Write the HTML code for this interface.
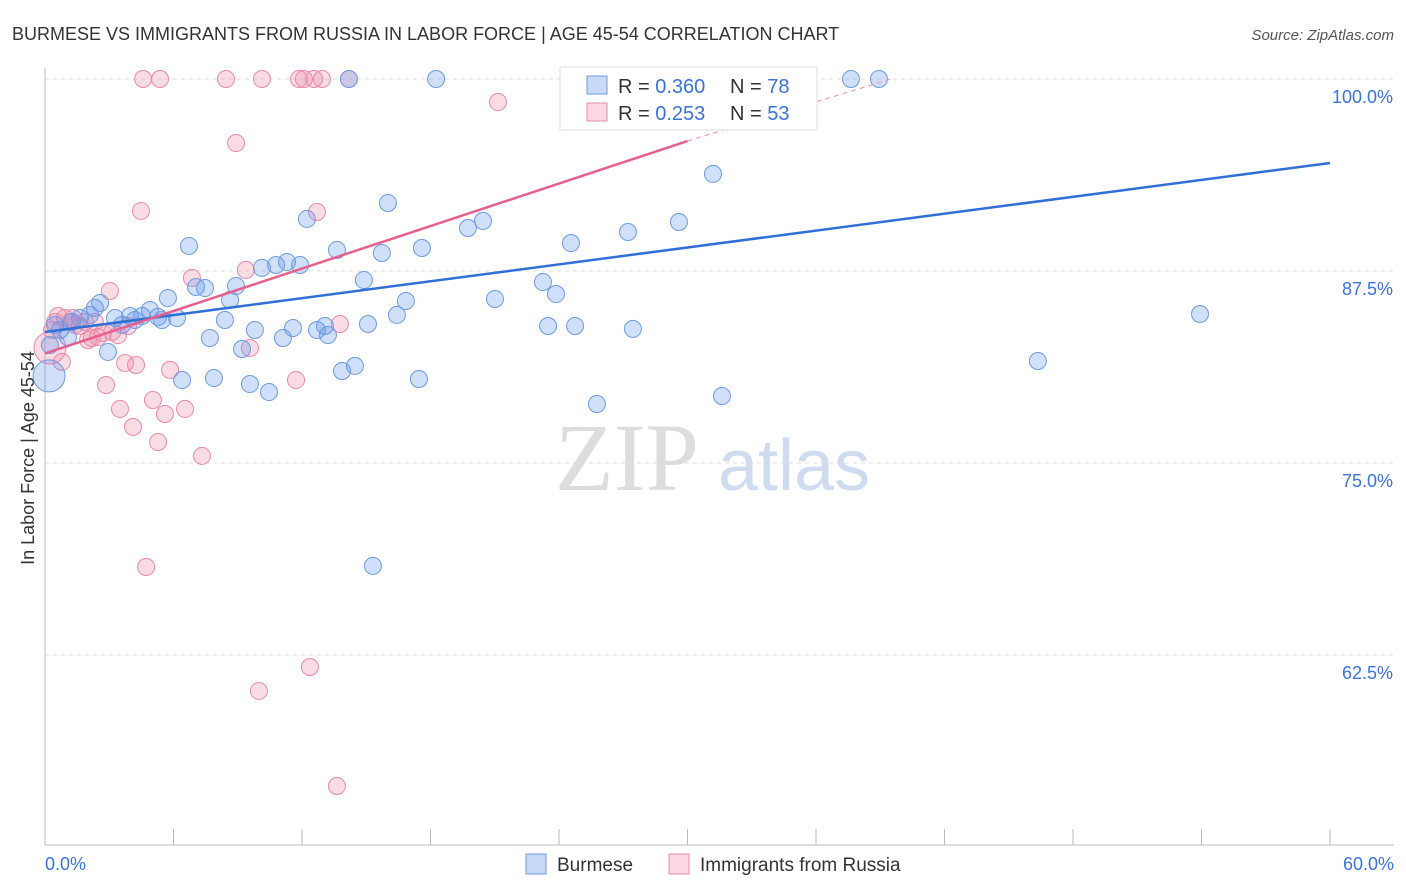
<!DOCTYPE html>
<html><head><meta charset="utf-8"><style>
body{margin:0;background:#fff;font-family:"Liberation Sans",sans-serif}
#wrap{position:relative;width:1406px;height:892px;overflow:hidden}
</style></head><body>
<div id="wrap">
<svg id="svg" width="1406" height="892" xmlns="http://www.w3.org/2000/svg">
<text x="12" y="40" font-size="18" fill="#333">BURMESE VS IMMIGRANTS FROM RUSSIA IN LABOR FORCE | AGE 45-54 CORRELATION CHART</text>
<text x="1394" y="40" font-size="15" fill="#555" font-style="italic" text-anchor="end">Source: ZipAtlas.com</text>
<text x="34" y="458" font-size="18" fill="#333" text-anchor="middle" transform="rotate(-90 34 458)">In Labor Force | Age 45-54</text>
<text x="555" y="490" font-size="96" fill="#ddd" font-family="Liberation Serif,serif">ZIP</text>
<text x="718" y="490" font-size="72" fill="#cfdcf0">atlas</text>
<g id="grid"></g><g id="axes"></g><g id="pts"></g><g id="lines"></g>
<g>
<rect x="560" y="67" width="257" height="63" fill="#fff" stroke="#ddd"/>
<rect x="587" y="76" width="20" height="18" fill="rgba(100,149,237,0.35)" stroke="#6d9be0"/>
<text x="618" y="93" font-size="20" fill="#333">R = <tspan fill="#3b73d9">0.360</tspan></text>
<text x="730" y="93" font-size="20" fill="#333">N = <tspan fill="#3b73d9">78</tspan></text>
<rect x="587" y="103" width="20" height="18" fill="rgba(240,140,170,0.35)" stroke="#e88aa8"/>
<text x="618" y="120" font-size="20" fill="#333">R = <tspan fill="#3b73d9"> 0.253</tspan></text>
<text x="730" y="120" font-size="20" fill="#333">N = <tspan fill="#3b73d9">53</tspan></text>
</g>
<g>
<rect x="526" y="854" width="20" height="20" fill="rgba(100,149,237,0.35)" stroke="#6d9be0"/>
<text x="557" y="871" font-size="19" fill="#333">Burmese</text>
<rect x="669" y="854" width="20" height="20" fill="rgba(240,140,170,0.35)" stroke="#e88aa8"/>
<text x="700" y="871" font-size="19" fill="#333">Immigrants from Russia</text>
</g>
</svg></div>
<script>
const yTicks=[100,87.5,75,62.5];
const yTickLabels=["100.0%","87.5%","75.0%","62.5%"];
const xTickVals=[0,6,12,18,24,30,36,42,48,54,60];
const blueX=[0.23,0.47,0.70,1.07,1.26,1.63,2.10,2.33,2.57,2.94,3.27,3.60,3.97,4.20,4.53,4.90,5.28,5.46,5.74,6.16,6.40,6.72,7.05,7.47,7.70,7.89,8.40,8.64,8.92,9.20,9.57,9.80,10.13,10.46,10.79,11.11,11.30,11.58,11.91,12.23,12.70,13.07,13.21,13.63,13.87,14.19,14.47,14.89,15.08,15.31,15.73,16.01,16.43,16.85,17.46,17.60,18.26,19.75,20.45,21.01,23.25,23.49,23.86,24.56,24.75,24.98,25.77,27.22,27.45,29.60,31.19,31.61,37.63,38.94,46.36,53.93,0.19];
const blueY=[82.68,83.99,83.66,83.20,84.18,84.44,84.64,85.09,85.42,82.23,84.44,83.99,84.57,84.31,84.57,84.96,84.51,84.31,85.74,84.44,80.40,89.13,86.46,86.39,83.14,80.53,84.31,85.61,86.52,82.42,80.14,83.66,87.70,79.62,87.89,83.14,88.09,83.79,87.89,90.89,83.66,83.92,83.33,88.87,80.99,100,81.32,86.91,84.05,68.30,88.67,91.93,84.64,85.55,80.47,89.00,100,90.30,90.76,85.68,86.78,83.92,86.00,89.32,83.92,100,78.84,90.04,83.73,90.69,93.82,79.36,100,100,81.64,84.70,80.67];
const pinkX=[0.23,0.33,0.47,0.61,0.79,0.93,1.17,1.31,1.40,1.63,1.87,2.01,2.19,2.33,2.47,2.71,2.85,3.03,3.13,3.41,3.50,3.74,3.88,4.11,4.25,4.48,4.58,4.72,5.04,5.28,5.37,5.60,5.84,6.54,6.86,7.33,8.45,8.92,9.38,9.57,9.99,10.13,11.72,11.86,12.09,12.37,12.56,12.70,12.93,13.63,13.77,14.19,21.15];
const pinkY=[82.49,83.66,84.18,84.57,81.58,84.44,84.18,84.44,83.99,83.92,84.18,83.01,83.14,84.18,83.20,83.46,80.08,86.20,83.53,83.33,78.52,81.51,83.92,77.35,81.38,91.41,100,68.23,79.10,76.37,100,78.19,81.06,78.52,87.05,75.46,100,95.83,87.57,82.49,60.16,100,80.40,100,100,61.72,100,91.34,100,53.97,84.05,100,98.50];
const blueTrend=[0,83.53,60,94.53];
const pinkTrend=[0,82.13,30,95.96,39.5,100];
const X=v=>45+v/60*1285, Y=v=>79+(100-v)/12.5*192;
const NS="http://www.w3.org/2000/svg";
function mk(tag,attrs,parent){const e=document.createElementNS(NS,tag);for(const k in attrs)e.setAttribute(k,attrs[k]);document.getElementById(parent).appendChild(e);return e;}
yTicks.forEach((t,i)=>{
 const l=mk('line',{x1:45,x2:1394,y1:Y(t),y2:Y(t),stroke:'#ddd','stroke-dasharray':'4 4'},'grid');
 
 
 const tx=mk('text',{x:1393,y:Y(t)+24,'font-size':18,fill:'#3b73d9','text-anchor':'end'},'grid');tx.textContent=yTickLabels[i];
 
 
});
const ax=mk('line',{x1:45,x2:1394,y1:845,y2:845,stroke:'#bbb'},'axes');


const ay=mk('line',{x1:45,x2:45,y1:68,y2:845,stroke:'#bbb'},'axes');


xTickVals.forEach(v=>{const t=mk('line',{x1:X(v),x2:X(v),y1:829,y2:845,stroke:'#bbb'},'axes');
 
 });
const xl0=mk('text',{x:45,y:870,'font-size':18,fill:'#3b73d9'},'axes');xl0.textContent='0.0%';


const xl1=mk('text',{x:1394,y:870,'font-size':18,fill:'#3b73d9','text-anchor':'end'},'axes');xl1.textContent='60.0%';


function pts(xs,ys,fill,stroke,name){xs.forEach((x,i)=>{const big=(i===xs.length-1&&name==='burmese-point')||(i===0&&name==='russia-point');
 const c=mk('circle',{cx:X(x),cy:Y(ys[i]),r:big?16:8.5,fill:fill,stroke:stroke,'stroke-width':1},'pts');
 
 });}
pts(pinkX,pinkY,'rgba(240,140,170,0.3)','#e88aa8','russia-point');
pts(blueX,blueY,'rgba(100,149,237,0.3)','#6d9be0','burmese-point');
const bl=mk('line',{x1:X(blueTrend[0]),y1:Y(blueTrend[1]),x2:X(blueTrend[2]),y2:Y(blueTrend[3]),stroke:'#2f6fd6','stroke-width':2.5},'lines');


const pl=mk('line',{x1:X(pinkTrend[0]),y1:Y(pinkTrend[1]),x2:X(pinkTrend[2]),y2:Y(pinkTrend[3]),stroke:'#e5608e','stroke-width':2.5},'lines');


const pd=mk('line',{x1:X(pinkTrend[2]),y1:Y(pinkTrend[3]),x2:X(pinkTrend[4]),y2:Y(pinkTrend[5]),stroke:'#e5a0b8','stroke-width':1.2,'stroke-dasharray':'5 4'},'lines');


</script>
</body></html>
